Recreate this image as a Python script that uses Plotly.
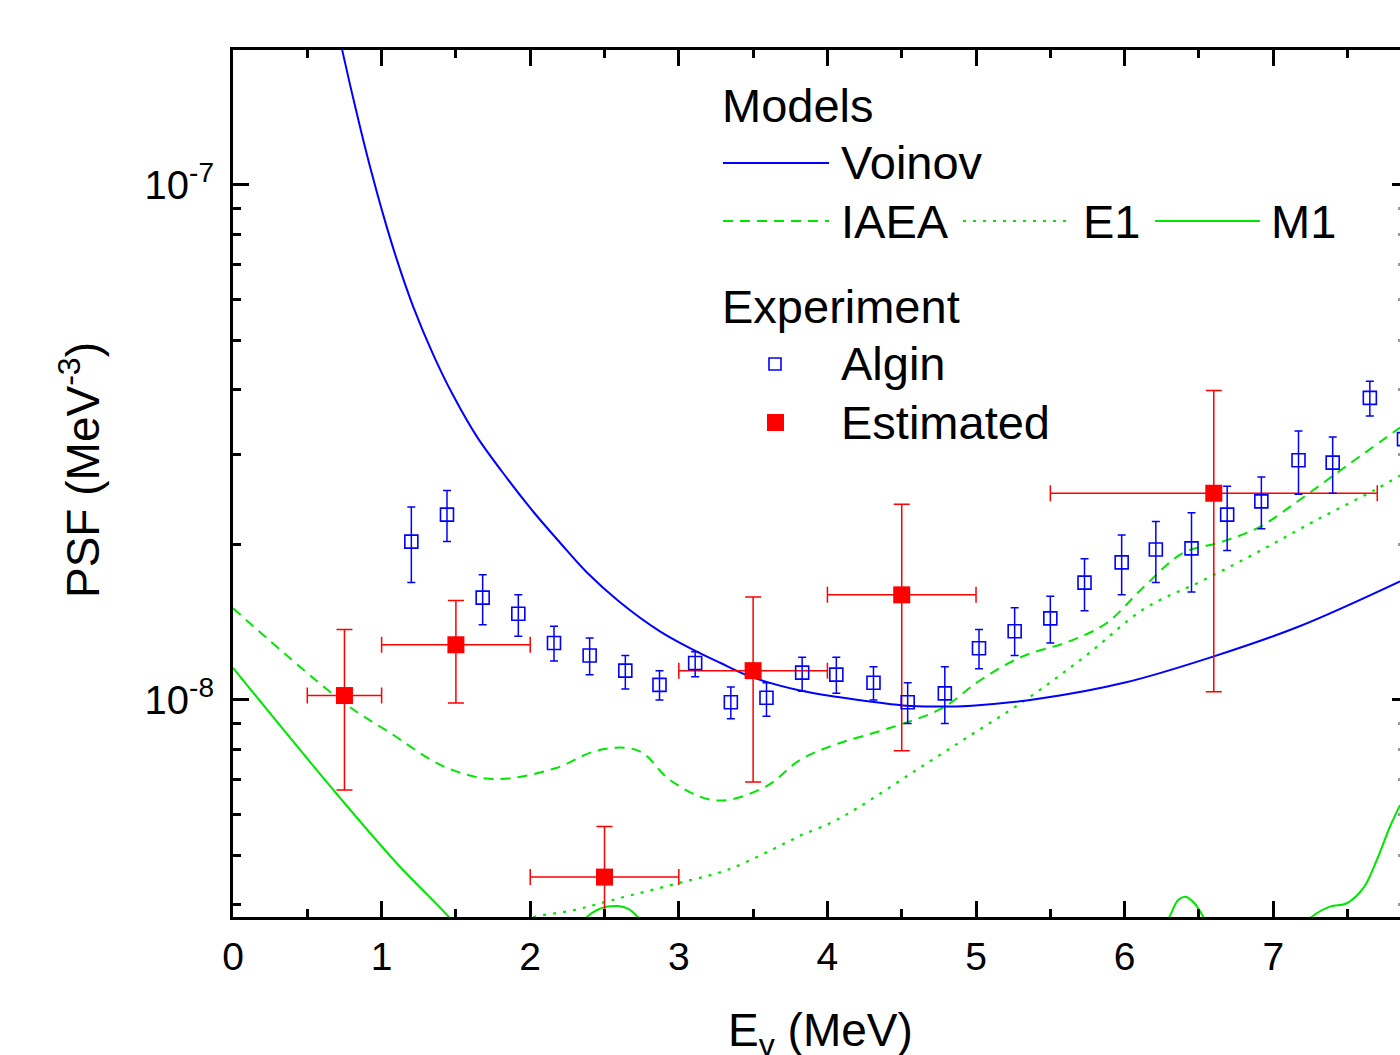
import plotly.graph_objects as go

# ---------------- data ----------------
# Voinov model (blue solid)
voinov_x = [0.70, 0.738, 0.787, 0.866, 0.933, 1.011, 1.102, 1.213, 1.348, 1.482, 1.640,
            1.842, 2.021, 2.201, 2.380, 2.604, 2.873, 3.098, 3.277, 3.483, 3.816,
            4.071, 4.509, 4.717, 4.973, 5.410, 6.003, 6.595, 7.164, 7.853]
voinov_y = [2.03e-7, 1.811e-7, 1.568e-7, 1.258e-7, 1.056e-7, 8.75e-8, 7.17e-8, 5.80e-8,
            4.68e-8, 3.90e-8, 3.25e-8, 2.70e-8, 2.32e-8, 2.02e-8, 1.77e-8, 1.548e-8,
            1.359e-8, 1.251e-8, 1.181e-8, 1.11e-8, 1.043e-8, 1.013e-8, 0.976e-8,
            0.971e-8, 0.975e-8, 1.004e-8, 1.081e-8, 1.214e-8, 1.386e-8, 1.70e-8]

# IAEA total (green dashed), units 1e-8
iaea_x = [0.0, 0.752, 1.061, 1.422, 1.756, 2.169, 2.427, 2.633, 2.761, 2.941, 3.250,
          3.585, 3.816, 4.073, 4.408, 4.769, 5.026, 5.310, 5.619, 5.875, 6.133,
          6.391, 6.649, 6.904, 7.163, 7.421, 7.853]
iaea_y = [1.507, 0.985, 0.862, 0.742, 0.702, 0.737, 0.794, 0.808, 0.788, 0.699, 0.638,
          0.679, 0.765, 0.823, 0.880, 0.963, 1.091, 1.214, 1.297, 1.408, 1.662,
          1.928, 2.026, 2.164, 2.429, 2.75, 3.38]

# IAEA E1 (green dotted), units 1e-8
e1_x = [1.90, 1.999, 2.297, 2.555, 2.998, 3.328, 3.715, 3.816, 4.016, 4.202, 4.588,
        4.974, 5.361, 5.747, 6.133, 6.520, 6.906, 7.292, 7.678, 7.853]
e1_y = [0.365, 0.377, 0.391, 0.409, 0.441, 0.468, 0.527, 0.545, 0.576, 0.617, 0.728,
        0.858, 1.013, 1.224, 1.504, 1.703, 1.944, 2.237, 2.553, 2.728]

# IAEA M1 (green solid), units 1e-8 (None = gap below the frame)
m1_x = [0.0, 0.675, 1.102, 1.460, 1.55, None,
        2.33, 2.382, 2.45, 2.52, 2.59, 2.66, 2.723, 2.78, None,
        6.25, 6.301, 6.36, 6.41, 6.47, 6.530, 6.58, None,
        7.20, 7.259, 7.382, 7.495, 7.606, 7.697, 7.786, 7.853]
m1_y = [1.154, 0.669, 0.482, 0.377, 0.35, None,
        0.36, 0.379, 0.391, 0.397, 0.398, 0.393, 0.379, 0.36, None,
        0.36, 0.379, 0.409, 0.415, 0.403, 0.379, 0.36, None,
        0.36, 0.379, 0.397, 0.403, 0.431, 0.489, 0.568, 0.625]

# Algin experiment (blue open squares), units 1e-8
algin_x = [1.20, 1.44, 1.68, 1.92, 2.16, 2.40, 2.64, 2.87, 3.11, 3.35, 3.59, 3.83,
           4.06, 4.31, 4.54, 4.79, 5.02, 5.26, 5.50, 5.73, 5.98, 6.21, 6.45, 6.69,
           6.92, 7.17, 7.40, 7.65, 7.88]
algin_y = [2.03, 2.29, 1.58, 1.47, 1.29, 1.22, 1.14, 1.07, 1.18, 0.99, 1.01, 1.13,
           1.12, 1.08, 0.99, 1.03, 1.26, 1.36, 1.44, 1.69, 1.85, 1.96, 1.97, 2.29,
           2.43, 2.92, 2.89, 3.86, 3.21]
algin_hi = [2.37, 2.55, 1.75, 1.60, 1.39, 1.32, 1.22, 1.14, 1.24, 1.06, 1.08, 1.21,
            1.21, 1.16, 1.08, 1.16, 1.37, 1.51, 1.59, 1.88, 2.09, 2.22, 2.31, 2.60,
            2.71, 3.33, 3.24, 4.16, 3.50]
algin_lo = [1.69, 2.03, 1.40, 1.33, 1.19, 1.12, 1.05, 1.00, 1.11, 0.92, 0.93, 1.04,
            1.03, 1.00, 0.90, 0.90, 1.15, 1.22, 1.29, 1.49, 1.60, 1.69, 1.62, 1.95,
            2.15, 2.51, 2.52, 3.56, 2.95]

# Estimated (red filled squares), units 1e-8
est_x = [0.75, 1.5, 2.5, 3.5, 4.5, 6.6]
est_x_lo = [0.5, 1.0, 2.0, 3.0, 4.0, 5.5]
est_x_hi = [1.0, 2.0, 3.0, 4.0, 5.0, 7.7]
est_y = [1.02, 1.28, 0.453, 1.14, 1.60, 2.52]
est_y_hi = [1.37, 1.56, 0.568, 1.585, 2.40, 3.99]
est_y_lo = [0.669, 0.987, 0.30, 0.693, 0.797, 1.038]

x_ticks = [0, 1, 2, 3, 4, 5, 6, 7]
y_ticks = [1e-8, 1e-7]
y_ticktext = ["10<sup>-8</sup>", "10<sup>-7</sup>"]
y_minor = [4e-9, 5e-9, 6e-9, 7e-9, 8e-9, 9e-9, 2e-8, 3e-8, 4e-8, 5e-8, 6e-8, 7e-8,
           8e-8, 9e-8, 2e-7]

SC = 1e-8
def sc(v):
    return [None if a is None else a * SC for a in v]

# ---------------- layout constants ----------------
W, H = 1400, 1055
L, R, T, B = 233, 0, 50, 138
PW, PH = W - L - R, H - T - B
FONT = "Liberation Sans, Arial, Helvetica, sans-serif"
GREEN = "#00e600"
BLUE = "#0000ff"
RED = "#ff0000"

def px(xp):
    return (xp - L) / PW

def py(yp):
    return (H - B - yp) / PH

fig = go.Figure()

fig.add_trace(go.Scatter(x=iaea_x, y=sc(iaea_y), mode="lines", line_shape="spline",
                         line=dict(color=GREEN, width=2, dash="10px,7px"), showlegend=False))
fig.add_trace(go.Scatter(x=e1_x, y=sc(e1_y), mode="lines", line_shape="spline",
                         line=dict(color=GREEN, width=2.2, dash="3px,7px"), showlegend=False))
fig.add_trace(go.Scatter(x=m1_x, y=sc(m1_y), mode="lines", line_shape="spline",
                         connectgaps=False,
                         line=dict(color=GREEN, width=2), showlegend=False))
fig.add_trace(go.Scatter(x=voinov_x, y=voinov_y, mode="lines", line_shape="spline",
                         line=dict(color=BLUE, width=2, smoothing=1), showlegend=False))

fig.add_trace(go.Scatter(
    x=est_x, y=sc(est_y), mode="markers",
    marker=dict(symbol="square", size=17, color=RED, line=dict(width=0)),
    error_x=dict(type="data", symmetric=False,
                 array=[h - x for h, x in zip(est_x_hi, est_x)],
                 arrayminus=[x - l for l, x in zip(est_x_lo, est_x)],
                 color=RED, thickness=1.5, width=8),
    error_y=dict(type="data", symmetric=False,
                 array=[(h - y) * SC for h, y in zip(est_y_hi, est_y)],
                 arrayminus=[(y - l) * SC for l, y in zip(est_y_lo, est_y)],
                 color=RED, thickness=1.5, width=8),
    showlegend=False))

fig.add_trace(go.Scatter(
    x=algin_x, y=sc(algin_y), mode="markers",
    marker=dict(symbol="square-open", size=13, color=BLUE, line=dict(width=1.6, color=BLUE)),
    error_y=dict(type="data", symmetric=False,
                 array=[(h - y) * SC for h, y in zip(algin_hi, algin_y)],
                 arrayminus=[(y - l) * SC for l, y in zip(algin_lo, algin_y)],
                 color=BLUE, thickness=1.5, width=4),
    showlegend=False))

# dummy trace for right-side tick axis
fig.add_trace(go.Scatter(x=[None], y=[None], yaxis="y2", showlegend=False))

yrange = [-8.4214, -6.7379]

fig.update_layout(
    width=W, height=H,
    margin=dict(l=L, r=R, t=T, b=B, pad=0),
    paper_bgcolor="white", plot_bgcolor="white",
    font=dict(family=FONT, color="black"),
    xaxis=dict(range=[0, 7.853], tickmode="array", tickvals=x_ticks,
               ticks="inside", ticklen=16, tickwidth=2.5, tickcolor="black",
               showline=True, linecolor="black", linewidth=3, mirror="ticks",
               showgrid=False, zeroline=False,
               tickfont=dict(size=39, family=FONT, color="black"),
               ticklabelstandoff=3,
               minor=dict(dtick=0.5, tick0=0, ticks="inside", ticklen=8,
                          tickwidth=2.5, tickcolor="black", showgrid=False)),
    yaxis=dict(type="log", range=yrange, tickmode="array", tickvals=y_ticks,
               ticktext=y_ticktext,
               ticks="inside", ticklen=16, tickwidth=2.5, tickcolor="black",
               showline=True, linecolor="black", linewidth=3, mirror=False,
               showgrid=False, zeroline=False,
               tickfont=dict(size=40, family=FONT, color="black"),
               ticklabelstandoff=8,
               minor=dict(tickmode="array", tickvals=y_minor, ticks="inside",
                          ticklen=8, tickwidth=2.5, tickcolor="black", showgrid=False)),
    yaxis2=dict(type="log", range=yrange, overlaying="y", side="right", anchor="x",
                tickmode="array", tickvals=y_ticks,
                ticks="inside", ticklen=8, tickwidth=2.5, tickcolor="black",
                showline=False, showgrid=False, zeroline=False, showticklabels=False,
                minor=dict(tickmode="array", tickvals=y_minor, ticks="inside",
                           ticklen=2, tickwidth=2.5, tickcolor="#999999", showgrid=False)),
)

annotations = []
shapes = []

# axis titles
annotations.append(dict(text="PSF (MeV<sup>-3</sup>)", textangle=-90, x=px(80), y=py(470),
                        xref="paper", yref="paper", xanchor="center", yanchor="middle",
                        showarrow=False, font=dict(size=46, family=FONT, color="black")))
annotations.append(dict(text="E<sub>γ</sub> (MeV)", x=px(820), y=py(1033),
                        xref="paper", yref="paper", xanchor="center", yanchor="middle",
                        showarrow=False, font=dict(size=46, family=FONT, color="black")))

# legend (text)
def legtext(t, xl, yc):
    annotations.append(dict(text=t, x=px(xl), y=py(yc), xref="paper", yref="paper",
                            xanchor="left", yanchor="middle", showarrow=False,
                            font=dict(size=47, family=FONT, color="black")))

legtext("Models", 720, 105)
legtext("Voinov", 839, 163)
legtext("IAEA", 839, 221)
legtext("E1", 1081, 221)
legtext("M1", 1269, 221)
legtext("Experiment", 720, 306)
legtext("Algin", 839, 364)
legtext("Estimated", 839, 422)

def legline(x0, x1, yc, color, dash, width=2):
    shapes.append(dict(type="line", xref="paper", yref="paper",
                       x0=px(x0), x1=px(x1), y0=py(yc), y1=py(yc),
                       line=dict(color=color, width=width, dash=dash)))

legline(723, 829, 163, BLUE, "solid")
legline(723, 829, 221, GREEN, "10px,7px")
legline(963, 1067, 221, GREEN, "3px,7px", 2.2)
legline(1155, 1260, 221, GREEN, "solid")

shapes.append(dict(type="rect", xref="paper", yref="paper",
                   x0=px(769), x1=px(781), y0=py(358), y1=py(370),
                   line=dict(color=BLUE, width=1.6), fillcolor="rgba(0,0,0,0)"))
shapes.append(dict(type="rect", xref="paper", yref="paper",
                   x0=px(767), x1=px(784), y0=py(414), y1=py(431),
                   line=dict(color=RED, width=0), fillcolor=RED))

fig.update_layout(annotations=annotations, shapes=shapes)

fig.write_html("out.html")
